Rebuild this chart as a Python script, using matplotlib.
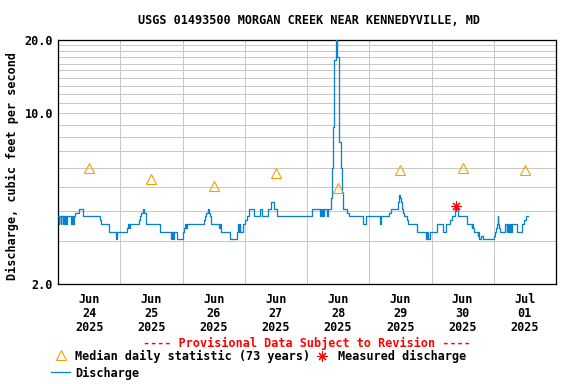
import datetime as dt
import matplotlib
matplotlib.use("Agg")
import matplotlib.pyplot as plt
from matplotlib.lines import Line2D
from matplotlib.ticker import FixedLocator, NullFormatter

# ---------------- data ----------------
# Discharge (cfs) step breakpoints: hours after 2025-06-24 00:00
q_hours = [0.0, 0.25, 0.5, 1.0, 1.25, 1.75, 2.0, 2.5, 2.75, 3.25, 3.5,
           5.0, 5.25, 5.75, 6.0, 6.5, 8.0, 9.5, 9.75, 16.25, 16.75, 19.5,
           22.5, 22.75, 26.5, 27.0, 27.5, 27.75, 31.25, 31.5, 32.0, 32.75,
           33.25, 33.75, 34.0, 39.25, 43.75, 44.0, 44.5, 44.75, 46.0, 48.25,
           48.75, 49.0, 49.5, 49.75, 56.25, 56.75, 57.25, 57.75, 58.25, 58.5,
           59.0, 62.25, 62.5, 63.0, 66.25, 69.0, 69.5, 69.75, 70.0, 70.25,
           71.5, 72.0, 72.75, 73.75, 75.5, 77.75, 78.5, 81.0, 82.0, 83.25,
           84.5, 97.75, 101.0, 101.25, 101.5, 101.75, 102.25, 102.5, 103.75,
           104.0, 105.25, 105.5, 106.0, 106.5, 107.0, 107.25, 107.5, 107.75,
           108.25, 108.5, 109.0, 109.5, 109.75, 111.5, 112.0, 117.75, 118.75,
           124.25, 124.5, 127.75, 128.5, 131.0, 131.5, 132.0, 132.25, 132.5,
           133.0, 133.5, 134.5, 135.0, 138.5, 141.75, 142.25, 142.5, 143.25,
           146.25, 148.25, 149.75, 151.25, 152.0, 153.0, 153.5, 153.75,
           154.25, 157.5, 159.5, 159.75, 160.0, 160.5, 161.75, 162.0, 162.5,
           163.0, 164.0, 168.0, 168.5, 169.0, 169.25, 169.5, 169.75, 170.0,
           170.5, 172.5, 173.0, 173.25, 173.5, 173.75, 174.25, 174.5, 174.75,
           175.0, 177.0, 179.0, 179.5, 180.25, 181.25]
q_values = [3.80, 3.53, 3.80, 3.53, 3.80, 3.53, 3.80, 3.53, 3.80, 3.53, 3.80,
            3.53, 3.80, 3.53, 3.80, 3.92, 4.05, 3.92, 3.80, 3.66, 3.53, 3.27,
            3.05, 3.27, 3.40, 3.53, 3.40, 3.53, 3.66, 3.80, 3.92, 4.05,
            3.92, 3.80, 3.53, 3.27, 3.05, 3.27, 3.05, 3.27, 3.05, 3.27,
            3.40, 3.53, 3.40, 3.53, 3.66, 3.80, 3.92, 4.05, 3.92, 3.80,
            3.53, 3.40, 3.53, 3.27, 3.05, 3.27, 3.53, 3.27, 3.53, 3.27,
            3.53, 3.66, 3.80, 4.05, 3.80, 4.05, 3.80, 4.05, 4.35, 4.05,
            3.80, 4.05, 3.80, 4.05, 3.80, 4.05, 3.80, 4.05, 3.80,
            4.05, 4.49, 5.96, 8.8, 16.5, 19.06, 20.0, 19.0, 17.1,
            10.2, 7.66, 5.96, 4.78, 4.05, 3.92, 3.80, 3.53, 3.80,
            3.53, 3.80, 3.92, 4.05, 4.35, 4.62, 4.49, 4.35, 4.05,
            3.92, 3.80, 3.66, 3.53, 3.27, 3.05, 3.27, 3.05, 3.27,
            3.53, 3.27, 3.53, 3.66, 3.80, 4.05, 4.18, 4.05,
            3.80, 3.53, 3.40, 3.53, 3.40, 3.27, 3.15, 3.27, 3.05,
            3.15, 3.05, 3.15, 3.27, 3.40, 3.53, 3.80, 3.53, 3.40,
            3.27, 3.53, 3.27, 3.53, 3.27, 3.53, 3.27, 3.53, 3.27,
            3.53, 3.27, 3.53, 3.66, 3.80, 3.80]

# Median daily statistic (73 years), plotted at noon of each day
median_days = [0, 1, 2, 3, 4, 5, 6, 7]
median_values = [5.97, 5.38, 5.05, 5.70, 4.93, 5.86, 5.97, 5.86]

# Measured discharge
meas_hours = [153.4]
meas_values = [4.18]

day_labels = ["Jun\n24\n2025", "Jun\n25\n2025", "Jun\n26\n2025", "Jun\n27\n2025",
              "Jun\n28\n2025", "Jun\n29\n2025", "Jun\n30\n2025", "Jul\n01\n2025"]
y_ticks = [2, 10, 20]
y_tick_labels = ["2.0", "10.0", "20.0"]

title = "USGS 01493500 MORGAN CREEK NEAR KENNEDYVILLE, MD"
ylabel = "Discharge, cubic feet per second"

# ---------------- style ----------------
W, H = 576, 384
FONT = dict(family="DejaVu Sans Mono", weight="bold", size=11.8)
LINE_C = "#0a80d0"
MED_C = "#f5a000"
GRID_C = "#c8c8c8"

start = dt.datetime(2025, 6, 24)

fig = plt.figure(figsize=(W / 72, H / 72), dpi=72)
ax = fig.add_axes([58 / W, 1 - 284 / H, (556 - 58) / W, (284 - 40) / H])

t = [start + dt.timedelta(hours=h) for h in q_hours]
ax.plot(t, q_values, drawstyle="steps-post", color=LINE_C, lw=1.3, zorder=3)

med_t = [start + dt.timedelta(days=d, hours=12) for d in median_days]
ax.plot(med_t, median_values, ls="none", marker="^", ms=10, mfc="none",
        mec=MED_C, mew=1.1, zorder=4)

meas_t = [start + dt.timedelta(hours=h) for h in meas_hours]
ax.plot(meas_t, meas_values, ls="none", marker=(8, 2, 0), ms=10,
        color="red", mew=1.1, zorder=5)

ax.set_yscale("log")
ax.set_ylim(2, 20)
ax.set_xlim(start, start + dt.timedelta(days=8))

ax.yaxis.set_major_locator(FixedLocator(y_ticks))
ax.set_yticklabels(y_tick_labels)
ax.yaxis.set_minor_locator(FixedLocator(list(range(3, 20))))
ax.yaxis.set_minor_formatter(NullFormatter())

midnights = [start + dt.timedelta(days=d) for d in range(9)]
noons = [start + dt.timedelta(days=d, hours=12) for d in range(8)]
ax.set_xticks(midnights)
ax.set_xticklabels([""] * len(midnights))
ax.set_xticks(noons, minor=True)
ax.set_xticklabels(day_labels, minor=True, linespacing=1.08, **FONT)
for lbl in ax.get_yticklabels():
    lbl.set_fontfamily(FONT["family"])
    lbl.set_fontweight("bold")
    lbl.set_fontsize(FONT["size"])

ax.tick_params(which="both", length=0)
ax.tick_params(axis="x", which="minor", pad=9)
ax.tick_params(axis="y", which="major", pad=5)

ax.grid(True, which="major", axis="x", color=GRID_C, lw=1)
ax.grid(True, which="both", axis="y", color=GRID_C, lw=1)
ax.set_axisbelow(True)
for s in ax.spines.values():
    s.set_color("black")
    s.set_linewidth(1.3)


def fx(x):
    return x / W


def fy(y):
    return 1 - y / H


fig.text(fx(309), fy(20), title, ha="center", va="center", **FONT)
fig.text(fx(12), fy(166), ylabel, ha="center", va="center", rotation=90, **FONT)
fig.text(fx(307), fy(343), "---- Provisional Data Subject to Revision ----",
         ha="center", va="center", color="red", **FONT)

fig.add_artist(Line2D([fx(61)], [fy(355)], marker="^", ms=10, mfc="none",
                      mec=MED_C, mew=1.1, ls="none"))
fig.text(fx(75), fy(356), "Median daily statistic (73 years)", ha="left",
         va="center", **FONT)
fig.add_artist(Line2D([fx(322)], [fy(356)], marker=(8, 2, 0), ms=10,
                      color="red", mew=1.1, ls="none"))
fig.text(fx(338), fy(356), "Measured discharge", ha="left", va="center", **FONT)
fig.add_artist(Line2D([fx(51), fx(70)], [fy(372), fy(372)], color=LINE_C, lw=1.3))
fig.text(fx(75), fy(373), "Discharge", ha="left", va="center", **FONT)

fig.savefig("out.png", dpi=72)
